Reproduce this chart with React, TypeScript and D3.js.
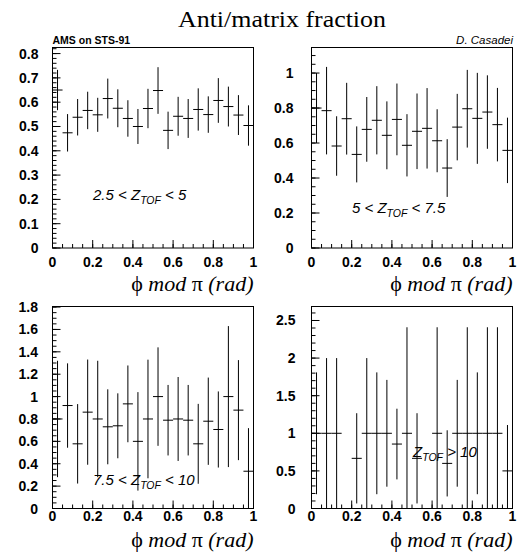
import React from "react";
import * as d3 from "d3";

const binEdges = d3.range(0, 1.0001, 0.05);

const p1Values = [0.65, 0.474, 0.538, 0.566, 0.548, 0.615, 0.575, 0.533, 0.5, 0.574, 0.648, 0.484, 0.542, 0.533, 0.57, 0.549, 0.607, 0.582, 0.547, 0.504];
const p1Errors = [0.083, 0.077, 0.075, 0.077, 0.07, 0.082, 0.078, 0.075, 0.072, 0.081, 0.096, 0.077, 0.08, 0.08, 0.087, 0.075, 0.092, 0.082, 0.082, 0.083];

const p2Values = [0.8, 0.785, 0.583, 0.739, 0.535, 0.678, 0.73, 0.644, 0.735, 0.587, 0.667, 0.684, 0.613, 0.457, 0.691, 0.796, 0.741, 0.777, 0.705, 0.558];
const p2Errors = [0.2, 0.25, 0.17, 0.205, 0.16, 0.185, 0.195, 0.194, 0.205, 0.178, 0.216, 0.23, 0.18, 0.165, 0.19, 0.222, 0.26, 0.21, 0.21, 0.187];

const p3Values = [0.8, 0.92, 0.578, 0.861, 0.8, 0.73, 0.739, 0.935, 0.6, 0.8, 1.0, 0.789, 0.8, 0.789, 0.578, 0.78, 0.706, 1.0, 0.879, 0.333];
const p3Errors = [0.52, 0.377, 0.355, 0.47, 0.52, 0.335, 0.29, 0.343, 0.44, 0.53, 0.44, 0.315, 0.375, 0.315, 0.357, 0.39, 0.34, 0.63, 0.447, 0.385];

const p4Values: (number | null)[] = [1, 1, 1, null, 0.667, 1, 1, 1, 0.857, 1, 0.667, null, 1, 0.6, 1, 1, 1, 1, 1, 0.5];
const p4Errors: (number | null)[] = [0.81, 1.0, 1.0, null, 0.6, 1.0, 0.81, 0.71, 0.47, 1.41, 0.6, null, 1.41, 0.44, 0.71, 1.41, 0.81, 1.41, 1.41, 0.61];

const xTicks = [0, 0.2, 0.4, 0.6, 0.8, 1];
const p1YTicks = [0, 0.1, 0.2, 0.3, 0.4, 0.5, 0.6, 0.7, 0.8];
const p2YTicks = [0, 0.2, 0.4, 0.6, 0.8, 1];
const p3YTicks = [0, 0.2, 0.4, 0.6, 0.8, 1, 1.2, 1.4, 1.6, 1.8];
const p4YTicks = [0, 0.5, 1, 1.5, 2, 2.5];

const SANS = "'Liberation Sans', Arial, Helvetica, sans-serif";
const SERIF = "'Liberation Serif', 'Times New Roman', 'DejaVu Serif', serif";

type PanelProps = {
  left: number; top: number; width: number; height: number;
  ymax: number; yTicks: number[]; minorStep: number;
  values: (number | null)[]; errors: (number | null)[];
  labelGap: number; xLabelOffset: number; xTitleY: number;
  label: React.ReactNode;
};

function fmt(v: number) {
  return String(+v.toFixed(2));
}

function Panel(p: PanelProps) {
  const x = d3.scaleLinear().domain([0, 1]).range([p.left, p.left + p.width]);
  const y = d3.scaleLinear().domain([0, p.ymax]).range([p.top + p.height, p.top]).clamp(true);
  const bottom = p.top + p.height;
  const minorY = d3.range(0, p.ymax + 1e-9, p.minorStep);
  const minorX = d3.range(0, 1.0001, 0.05);
  return (
    <g>
      <rect x={p.left} y={p.top} width={p.width} height={p.height} fill="none" stroke="#000" strokeWidth={1} />
      {minorY.map((v, i) => (
        <line key={"my" + i} x1={p.left} x2={p.left + 4} y1={y(v)} y2={y(v)} stroke="#000" />
      ))}
      {p.yTicks.map((v, i) => (
        <g key={"y" + i}>
          <line x1={p.left} x2={p.left + 8} y1={y(v)} y2={y(v)} stroke="#000" />
          <text x={p.left - p.labelGap} y={y(v) + 5} textAnchor="end" fontFamily={SANS} fontWeight="bold" fontSize={14}>{fmt(v)}</text>
        </g>
      ))}
      {minorX.map((v, i) => (
        <line key={"mx" + i} x1={x(v)} x2={x(v)} y1={bottom} y2={bottom - 4} stroke="#000" />
      ))}
      {xTicks.map((v, i) => (
        <g key={"x" + i}>
          <line x1={x(v)} x2={x(v)} y1={bottom} y2={bottom - 8} stroke="#000" />
          <text x={x(v)} y={bottom + p.xLabelOffset} textAnchor="middle" fontFamily={SANS} fontWeight="bold" fontSize={14}>{fmt(v)}</text>
        </g>
      ))}
      {p.values.map((v, i) => {
        if (v === null) return null;
        const e = p.errors[i] as number;
        const x0 = binEdges[i];
        const x1 = binEdges[i + 1];
        const xc = (x0 + x1) / 2;
        return (
          <g key={"b" + i} stroke="#000" strokeWidth={1}>
            <line x1={x(x0)} x2={x(x1)} y1={y(v)} y2={y(v)} />
            <line x1={x(xc)} x2={x(xc)} y1={y(v + e)} y2={y(v - e)} />
          </g>
        );
      })}
      <text x={p.left + p.width} y={p.xTitleY} textAnchor="end" fontFamily={SERIF} fontSize={22}>
        <tspan>ϕ </tspan>
        <tspan fontStyle="italic">mod</tspan>
        <tspan> π </tspan>
        <tspan fontStyle="italic">(rad)</tspan>
      </text>
      {p.label}
    </g>
  );
}

function ZLabel(props: { x: number; y: number; pre: string; post: string }) {
  return (
    <text x={props.x} y={props.y} fontFamily={SANS} fontStyle="italic" fontSize={15}>
      {props.pre}Z<tspan fontSize={10.5} dy={4}>TOF</tspan><tspan dy={-4}>{props.post}</tspan>
    </text>
  );
}

export default function App() {
  const W = 518, H = 555;
  const pw = 201;
  return (
    <svg width={W} height={H} style={{ position: "absolute", left: 0, top: 0, background: "#fff" }}>
      <rect x={0} y={0} width={W} height={H} fill="#fff" />
      <text x={178} y={27} fontFamily={SERIF} fontSize={23.5} textLength={208} lengthAdjust="spacingAndGlyphs">Anti/matrix fraction</text>
      <text x={52.5} y={44} fontFamily={SANS} fontWeight="bold" fontSize={10.5}>AMS on STS-91</text>
      <text x={513} y={44} textAnchor="end" fontFamily={SANS} fontStyle="italic" fontSize={11.5}>D. Casadei</text>
      <Panel left={52.5} top={47.5} width={pw} height={200.5} ymax={0.825} yTicks={p1YTicks} minorStep={0.02}
        values={p1Values} errors={p1Errors} labelGap={14} xLabelOffset={19} xTitleY={291}
        label={<ZLabel x={93} y={200} pre="2.5 < " post=" < 5" />} />
      <Panel left={311.5} top={47.5} width={pw} height={200.5} ymax={1.146} yTicks={p2YTicks} minorStep={0.05}
        values={p2Values} errors={p2Errors} labelGap={18} xLabelOffset={19} xTitleY={291}
        label={<ZLabel x={352} y={213} pre="5 < " post=" < 7.5" />} />
      <Panel left={52.5} top={306.5} width={pw} height={202} ymax={1.805} yTicks={p3YTicks} minorStep={0.05}
        values={p3Values} errors={p3Errors} labelGap={14.5} xLabelOffset={12.5} xTitleY={547}
        label={<ZLabel x={93} y={485} pre="7.5 < " post=" < 10" />} />
      <Panel left={311.5} top={306.5} width={pw} height={202} ymax={2.686} yTicks={p4YTicks} minorStep={0.1}
        values={p4Values} errors={p4Errors} labelGap={16} xLabelOffset={12.5} xTitleY={547}
        label={<ZLabel x={413} y={457} pre="" post=" > 10" />} />
    </svg>
  );
}
